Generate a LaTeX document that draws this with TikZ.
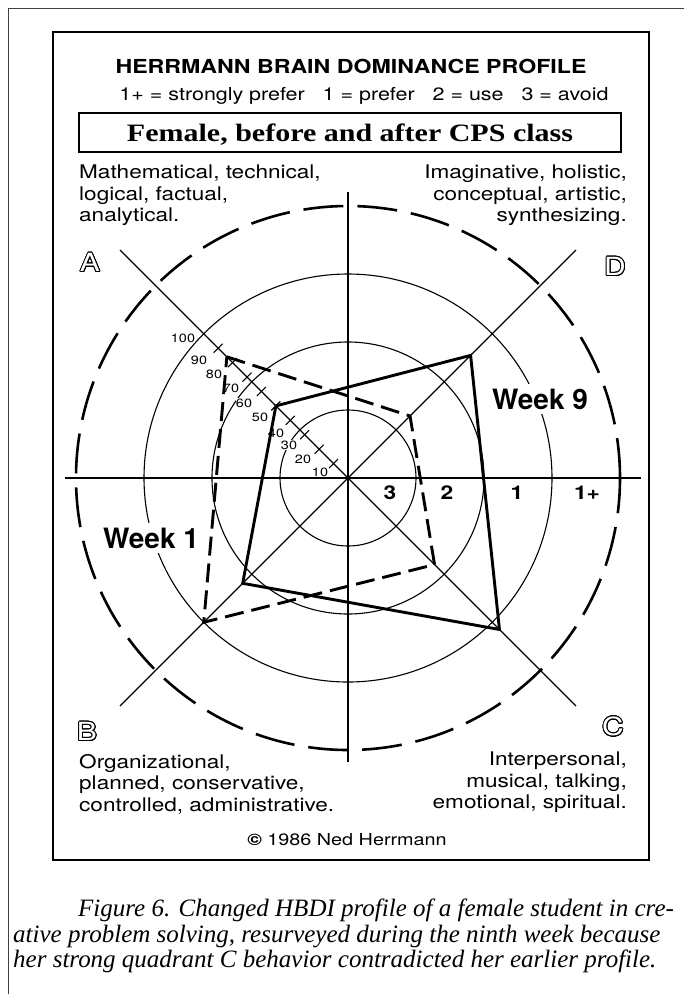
\documentclass[tikz,border=0pt]{standalone}
\usepackage{fontspec}
\usepackage[copies]{contour}
\newfontfamily\hel[FakeStretch=1.2]{TeX Gyre Heros}
\newfontfamily\helplain{TeX Gyre Heros}
\newfontfamily\tms[FakeStretch=1.2]{Liberation Serif}
\newfontfamily\capfont{Liberation Serif}
\usetikzlibrary{calc}
\contourlength{0.9pt}
\contournumber{24}
\newcommand\hollow[1]{\contour{black}{\textcolor{white}{#1}}}
\newcommand\rk{1.4425}
\tikzset{
  frame/.style={line width=0.9pt, black!75},
  ring/.style={line width=1.1pt},
  outer ring/.style={line width=2.6pt, dash pattern=on 40pt off 14pt},
  week one/.style={line width=2.9pt, dash pattern=on 19pt off 8pt, line join=miter},
  week nine/.style={line width=2.9pt, line join=miter},
  quad/.style={font=\hel\fontsize{18.8}{21.5}\selectfont, inner sep=0pt},
  scalelbl/.style={font=\hel\fontsize{12}{12}\selectfont, inner sep=0.3pt, fill=white},
  band/.style={font=\hel\bfseries\fontsize{19}{19}\selectfont, inner sep=0pt},
  corner/.style={font=\hel\fontsize{25}{25}\selectfont, inner sep=0pt},
  weeklbl/.style={font=\helplain\bfseries\fontsize{28}{28}\selectfont, fill=white, inner sep=5pt},
  capline/.style={font=\capfont\itshape\fontsize{25}{26}\selectfont, inner sep=0pt, anchor=base west}
}

\begin{document}
\begin{tikzpicture}[x=1pt,y=-1pt]
\useasboundingbox (0,0) rectangle (684,994);

\draw[frame] (8,994) -- (8,8) -- (684,8);
\draw[line width=1.4pt] (53,32) rectangle (649,860);

\node (title) at (351,66) {\hel\bfseries\fontsize{19.3}{20}\selectfont HERRMANN BRAIN DOMINANCE PROFILE};
\node[anchor=base] (legend) at (364,100) {\hel\fontsize{17.9}{18}\selectfont 1+ = strongly prefer\quad 1 = prefer\quad 2 = use\quad 3 = avoid};
\node[draw, line width=1.1pt, minimum width=542pt, minimum height=39pt, inner sep=0pt,
      text height=17pt, text depth=0pt] (group) at (350,132.5)
  {\tms\bfseries\fontsize{25}{25}\selectfont Female, before and after CPS class};

\node[quad, anchor=north west, align=left] (quadA) at (79,165)
  {Mathematical, technical,\\logical, factual,\\analytical.};
\node[quad, anchor=north east, align=right] (quadD) at (627,165)
  {Imaginative, holistic,\\conceptual, artistic,\\synthesizing.};
\node[quad, anchor=north west, align=left] (quadB) at (79,754)
  {Organizational,\\planned, conservative,\\controlled, administrative.};
\node[quad, anchor=north east, align=right] (quadC) at (627,752)
  {Interpersonal,\\musical, talking,\\emotional, spiritual.};

\node[corner] (letA) at (90,263) {\hollow{A}};
\node[corner] (letD) at (615,267) {\hollow{D}};
\node[corner] (letB) at (87,732) {\hollow{B}};
\node[corner] (letC) at (613,727) {\hollow{C}};

\coordinate (c) at (348,478);
\coordinate (axL) at (65,478);
\coordinate (axR) at (641,478);
\coordinate (axT) at (348,192);
\coordinate (axB) at (348,762);
\coordinate (dA) at (120,250);
\coordinate (dD) at (576,250);
\coordinate (dC) at (576,706);
\coordinate (dB) at (120,706);

\foreach \r in {68,136,204}
  \draw[ring] (c) circle[radius=\r pt];
\draw[outer ring] (c) circle[radius=272pt];

\draw[ring] (axL) -- (axR);
\draw[ring] (axT) -- (axB);
\draw[ring] (dA) -- (dC);
\draw[ring] (dB) -- (dD);

\foreach \v in {10,20,...,90}
  \draw[ring] ($(c)+({-\v*\rk-4.5},{-\v*\rk+4.5})$) -- ++(9,-9);

\foreach \v/\x/\y in {10/320/472,20/303/459,30/289/445,40/276/433,50/260/417,
                      60/244/403,70/231/388,80/214/374,90/199/360,100/183/338}
  \node[scalelbl] (s\v) at (\x,\y) {\v};

\node[band] (b3) at (390,493) {3};
\node[band] (b2) at (447,493) {2};
\node[band] (b1) at (517,493) {1};
\node[band] (b1p) at (587,493) {1+};

\node[weeklbl] (wk9) at (540,399) {Week 9};
\node[weeklbl] (wk1) at (151,538) {Week 1};

\coordinate (w1A) at ($(c)+(-84*\rk,-84*\rk)$);
\coordinate (w1D) at ($(c)+(43*\rk,-43*\rk)$);
\coordinate (w1C) at ($(c)+(60*\rk,60*\rk)$);
\coordinate (w1B) at ($(c)+(-100*\rk,100*\rk)$);
\coordinate (w9A) at ($(c)+(-50*\rk,-50*\rk)$);
\coordinate (w9D) at ($(c)+(85*\rk,-85*\rk)$);
\coordinate (w9C) at ($(c)+(105*\rk,105*\rk)$);
\coordinate (w9B) at ($(c)+(-73*\rk,73*\rk)$);

\draw[week one] (w1A) -- (w1D) -- (w1C) -- (w1B) -- cycle;
\draw[week nine] (w9A) -- (w9D) -- (w9C) -- (w9B) -- cycle;

\node (copy) at (347,840) {\hel\fontsize{16.5}{17}\selectfont {\bfseries\textcopyright}\ 1986 Ned Herrmann};

\node[capline] (cap1) at (78,916) {Figure 6. Changed HBDI profile of a female student in cre-};
\node[capline] (cap2) at (13,942) {ative problem solving, resurveyed during the ninth week because};
\node[capline] (cap3) at (13,967) {her strong quadrant C behavior contradicted her earlier profile.};
\end{tikzpicture}
\end{document}
